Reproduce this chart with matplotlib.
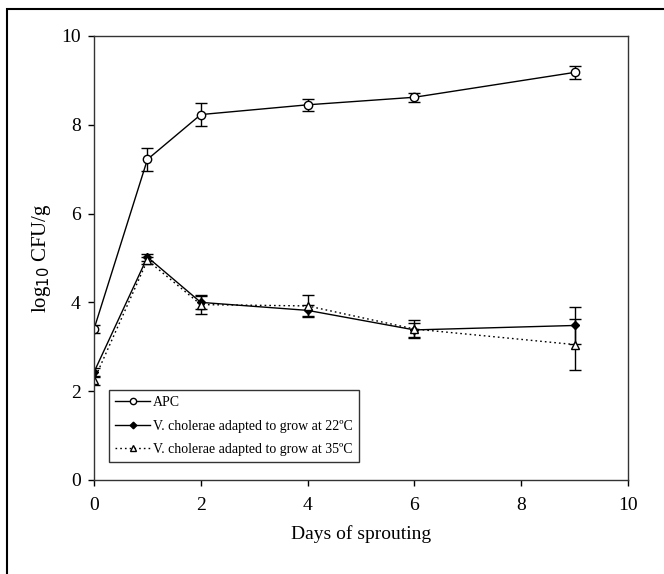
"""
Bacterial counts during sprouting
"""

import matplotlib.pyplot as plt
from matplotlib.patches import Rectangle

days = [0, 1, 2, 4, 6, 9]

apc = [3.40, 7.22, 8.23, 8.45, 8.62, 9.18]
apc_err = [0.08, 0.25, 0.25, 0.13, 0.10, 0.15]

vc22 = [2.43, 5.02, 4.00, 3.82, 3.38, 3.48]
vc22_err = [0.10, 0.08, 0.15, 0.12, 0.15, 0.42]

vc35 = [2.25, 4.95, 3.95, 3.92, 3.40, 3.05]
vc35_err = [0.10, 0.08, 0.22, 0.24, 0.20, 0.57]

labels = [
    "APC",
    "V. cholerae adapted to grow at 22ºC",
    "V. cholerae adapted to grow at 35ºC",
]

plt.rcParams["font.family"] = ["Liberation Serif", "DejaVu Serif"]

fig = plt.figure(figsize=(6.64, 5.74), dpi=100)
ax = fig.add_axes([0.1416, 0.1638, 0.8042, 0.7735])

# outer frame around the figure (cut off at right and bottom)
fig.patches.append(Rectangle((7 / 664, -0.2), 2.0, 1.2 - 9 / 574,
                             transform=fig.transFigure, fill=False,
                             edgecolor="black", linewidth=1.5, clip_on=False))

common = dict(color="black", linewidth=1.0, elinewidth=1.0, capsize=4, capthick=1.0)
e1 = ax.errorbar(days, apc, yerr=apc_err, marker="o", markersize=6,
                 markerfacecolor="white", markeredgecolor="black",
                 linestyle="-", **common)
e2 = ax.errorbar(days, vc22, yerr=vc22_err, marker="D", markersize=4.5,
                 markerfacecolor="black", markeredgecolor="black",
                 linestyle="-", **common)
e3 = ax.errorbar(days, vc35, yerr=vc35_err, marker="^", markersize=5.5,
                 markerfacecolor="white", markeredgecolor="black",
                 linestyle=(0, (1.2, 2.2)), **common)

ax.set_xlim(0, 10)
ax.set_ylim(0, 10)
ax.set_xticks(range(0, 11, 2))
ax.set_yticks(range(0, 11, 2))
ax.tick_params(direction="out", length=4.5, width=1, labelsize=14)
ax.tick_params(axis="x", pad=8)
ax.tick_params(axis="y", pad=5)
for side in ax.spines.values():
    side.set_linewidth(1.0)
    side.set_color("#333333")

ax.set_xlabel("Days of sprouting", fontsize=14, labelpad=8)
ax.set_ylabel("log$_{10}$ CFU/g", fontsize=15, labelpad=6)

# legend shows only line + marker, no error bars
leg = ax.legend(handles=[e1[0], e2[0], e3[0]], labels=labels,
                loc="lower left", bbox_to_anchor=(0.028, 0.04), fontsize=10,
                frameon=True, fancybox=False, edgecolor="black",
                handlelength=2.5, handletextpad=0.2, borderpad=0.45,
                labelspacing=0.75, borderaxespad=0, markerscale=0.75)
leg.get_frame().set_linewidth(1.0)

fig.savefig("out.png", dpi=100)
